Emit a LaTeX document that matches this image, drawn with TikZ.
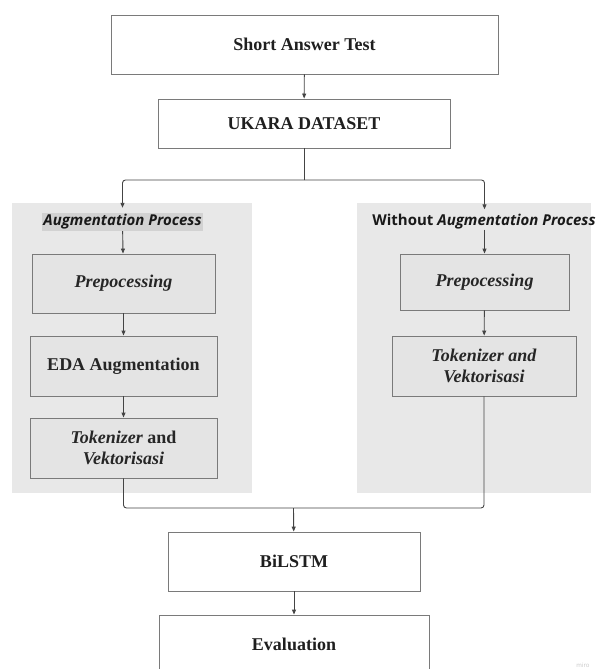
\documentclass[tikz,border=0pt]{standalone}
\usepackage{fontspec}
\setmainfont{Liberation Serif}
\newfontfamily\opensans{Open Sans}
\usetikzlibrary{arrows.meta}
\definecolor{panelgray}{HTML}{E8E8E8}
\definecolor{boxgray}{HTML}{E4E4E4}
\definecolor{edgegray}{HTML}{7A7A7A}
\definecolor{linedark}{HTML}{444444}
\definecolor{hlgray}{HTML}{D2D2D2}
\tikzset{
  whitebox/.style={draw=edgegray, line width=0.9pt, fill=white, font=\fontsize{18}{20}\selectfont\bfseries, align=center, inner sep=0pt, text=black!88},
  graybox/.style={draw=edgegray, line width=0.9pt, fill=boxgray, font=\fontsize{18}{21}\selectfont\bfseries, align=center, inner sep=0pt, text=black!85},
  panel/.style={fill=panelgray, draw=none},
  lbl/.style={font=\opensans\fontsize{15}{17}\selectfont\bfseries, inner sep=0pt, text=black!90},
  conn/.style={draw=linedark, line width=0.9pt},
  arr/.style={conn, -{Triangle[length=5pt,width=4pt]}}
}
\begin{document}
\begin{tikzpicture}[x=1pt,y=-1pt]
\clip (0,0) rectangle (596,669);
\fill[white] (0,0) rectangle (596,669);
% panels
\path[panel] (12,203) rectangle (252,493);
\path[panel] (357,203) rectangle (591,493);
% top boxes
\node[whitebox, minimum width=387pt, minimum height=59pt] (sat) at (304.5,44.5) {Short Answer Test};
\node[whitebox, minimum width=292pt, minimum height=49pt] (ukara) at (304,123.5) {UKARA DATASET};
\coordinate (split) at (304,180);
% left column
\node[lbl, fill=hlgray, minimum height=18pt, inner xsep=1pt] (auglbl) at (122.5,222) {\itshape Augmentation Process};
\node[graybox, minimum width=183pt, minimum height=59pt] (lprep) at (123.5,283.5) {\itshape Prepocessing};
\node[graybox, minimum width=187pt, minimum height=60pt] (leda) at (123.5,366) {EDA Augmentation};
\node[graybox, minimum width=187pt, minimum height=60pt] (ltok) at (123.5,448) {\textit{Tokenizer} and\\\textit{Vektorisasi}};
% right column
\node[lbl] (woutlbl) at (484,222) {Without \textit{Augmentation Process}};
\node[graybox, minimum width=169pt, minimum height=56pt] (rprep) at (484.5,282) {\itshape Prepocessing};
\node[graybox, minimum width=184pt, minimum height=60pt] (rtok) at (484,366) {\textit{Tokenizer and}\\\textit{Vektorisasi}};
% bottom boxes
\node[whitebox, minimum width=252pt, minimum height=59pt] (bilstm) at (294,561.5) {BiLSTM};
\node[whitebox, minimum width=270pt, minimum height=58pt] (eval) at (294,644) {Evaluation};
\coordinate (join) at (293.5,508);
% connectors
\draw[arr] (sat) -- (ukara);
\draw[conn] (ukara) -- (split);
\draw[arr, rounded corners=3pt] (split) -| ([yshift=5pt]auglbl.north);
\draw[arr, rounded corners=3pt] (split) -| ([yshift=5pt]woutlbl.north -| rprep.north);
\draw[arr] (auglbl) -- (lprep);
\draw[arr] (lprep) -- (leda);
\draw[arr] (leda) -- (ltok);
\draw[arr] (woutlbl.south -| rprep.north) -- (rprep);
\draw[arr] (rprep) -- (rtok);
\draw[conn, rounded corners=3pt] (ltok.south) |- (join);
\draw[conn, rounded corners=3pt] (rtok.south) |- (join);
\draw[arr] (join) -- (bilstm);
\draw[arr] (bilstm) -- (eval);
% watermark
\node[font=\opensans\fontsize{6}{7}\selectfont, text=black!22, inner sep=0pt] (miro) at (583,665) {miro};
\end{tikzpicture}
\end{document}
